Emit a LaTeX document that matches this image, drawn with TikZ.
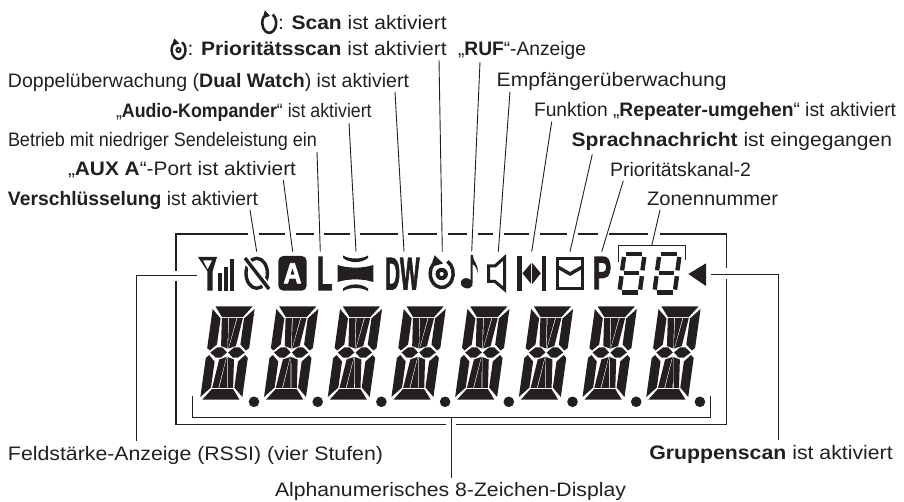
\documentclass[tikz,border=0pt]{standalone}
\usepackage{graphicx}
\usepackage{fontspec}
\setmainfont{Liberation Sans}
\newfontfamily\heavyfont{Liberation Sans}[BoldFeatures={FakeBold=2.5}]
\definecolor{ink}{HTML}{231F20}
\newcommand\fitw[2]{\resizebox{#1pt}{\height}{#2}}
\newcommand\fitb[3]{\resizebox{#1pt}{#2pt}{\heavyfont\bfseries #3}}
\newcommand\segdigit{%
 \fill[ink] (2.5,0)--(39.5,0)--(31.5,10.5)--(10.5,10.5)--cycle;
 \fill[ink] (2.5,93)--(39.5,93)--(31.5,82.5)--(10.5,82.5)--cycle;
 \fill[ink] (0,2.5)--(9.3,12)--(9.3,38)--(3,44)--(0,41.5)--cycle;
 \fill[ink] (42,2.5)--(32.7,12)--(32.7,38)--(39,44)--(42,41.5)--cycle;
 \fill[ink] (0,51.5)--(3,48.5)--(9.3,55)--(9.3,81)--(0,90.5)--cycle;
 \fill[ink] (42,51.5)--(39,48.5)--(32.7,55)--(32.7,81)--(42,90.5)--cycle;
 \fill[ink] (3.8,46)--(10,40.8)--(15,40.8)--(20.4,46)--(15,51.2)--(10,51.2)--cycle;
 \fill[ink] (38.2,46)--(32,40.8)--(27,40.8)--(21.6,46)--(27,51.2)--(32,51.2)--cycle;
 \fill[ink] (10.5,11.6)--(16.8,11.6)--(20.4,42)--(13.6,39.5)--cycle;
 \fill[ink] (17.6,11.6)--(25.2,11.6)--(21,43)--cycle;
 \fill[ink] (26,11.6)--(31.5,11.6)--(28.4,39.5)--(21.6,42)--cycle;
 \fill[ink] (10.5,81.4)--(16.8,81.4)--(20.4,50.5)--(13.6,53)--cycle;
 \fill[ink] (17.6,81.4)--(25.2,81.4)--(21,49.5)--cycle;
 \fill[ink] (26,81.4)--(31.5,81.4)--(28.4,53)--(21.6,50.5)--cycle;
}
\newcommand\ringic[5]{%
 \begin{scope}[shift={(#1,#2)},xscale=#3,yscale=#4]
  \draw[ink,line width=#5pt] (-60:1) arc[start angle=-60,end angle=222,radius=1];
  \fill[ink] (-.62,-1.3)--(.12,-.72)--(-.95,-.46)--cycle;
 \end{scope}}
\newcommand\sevenseg[1]{%
 \begin{scope}[shift={(#1,0)},ink,line width=4.4pt]
  \draw (6.8,253.9)--(22.8,253.9);
  \draw (2.7,292.6)--(18.7,292.6);
  \draw (4.7,273.3)--(20.3,273.3);
  \draw (5,257)--(3.1,270.4);
  \draw (2.5,276.2)--(0.7,289.6);
  \draw (25.3,257)--(23.4,270.4);
  \draw (22.9,276.2)--(21.1,289.6);
 \end{scope}}
\tikzset{
 lab/.style={inner sep=0pt,outer sep=0pt,anchor=base west,text=ink,font=\fontsize{19.5}{22}\selectfont},
 leader/.style={draw=ink,line width=0.9pt},
 frameline/.style={draw=ink,line width=1.5pt},
}
\begin{document}
\begin{tikzpicture}[x=1pt,y=-1pt]
\useasboundingbox (0,0) rectangle (904,502);
% frame
\draw[frameline] (248,234)--(176,234)--(176,271);
\draw[frameline] (176,281)--(176,424.5)--(446,424.5);
\draw[frameline] (456,424.5)--(726.5,424.5)--(726.5,279);
\draw[frameline] (726.5,268)--(726.5,234)--(660,234);
\foreach \a/\b in {258.7/285,295.7/313.5,324/349.5,359.7/397.5,408/437,447.7/467,477.7/492.7,504/529,540/566.7,578/598,609/648}
  \draw[frameline] (\a,234)--(\b,234);
% brackets
\draw[leader] (192,396)--(192,417)--(710.7,417)--(710.7,396);
\draw[leader] (618.3,262)--(618.3,245.7)--(685,245.7)--(685,260);
% text
\node[lab] (tscan) at (278,29.5) {\fitw{168.7}{: \textbf{Scan} ist aktiviert}};
\node[lab] (tprio) at (187.5,56) {\fitw{259.2}{: \textbf{Prioritätsscan} ist aktiviert}};
\node[lab] (truf) at (458,56) {\fitw{128}{„\textbf{RUF}“-Anzeige}};
\node[lab] (tdw) at (8,88) {\fitw{401}{Doppelüberwachung (\textbf{Dual Watch}) ist aktiviert}};
\node[lab] (taudio) at (116,118) {\fitw{255.7}{„\textbf{Audio-Kompander}“ ist aktiviert}};
\node[lab] (tlow) at (8,146.7) {\fitw{309}{Betrieb mit niedriger Sendeleistung ein}};
\node[lab] (taux) at (68,176) {\fitw{228}{„\textbf{AUX A}“-Port ist aktiviert}};
\node[lab] (tver) at (8,205.7) {\fitw{250}{\textbf{Verschlüsselung} ist aktiviert}};
\node[lab] (temp) at (496.7,87) {\fitw{230}{Empfängerüberwachung}};
\node[lab] (trep) at (534,117) {\fitw{362}{Funktion „\textbf{Repeater-umgehen}“ ist aktiviert}};
\node[lab] (tspr) at (571.7,147) {\fitw{320.3}{\textbf{Sprachnachricht} ist eingegangen}};
\node[lab] (tp2) at (610,176.7) {\fitw{141}{Prioritätskanal-2}};
\node[lab] (tzon) at (647,205.7) {\fitw{131}{Zonennummer}};
\node[lab] (tgrp) at (649.3,459) {\fitw{243.4}{\textbf{Gruppenscan} ist aktiviert}};
\node[lab] (trssi) at (8,460) {\fitw{375}{Feldstärke-Anzeige (RSSI) (vier Stufen)}};
\node[lab] (talpha) at (275,496.7) {\fitw{351}{Alphanumerisches 8-Zeichen-Display}};
% leader end points
\foreach \n/\xa/\ya/\xb/\yb in {
 ver/250/210/256.7/251.7, aux/283.3/180/292.7/251.7, low/317/152/320.3/251.7,
 aud/349/123/356/251.7, dw/395/92/404/251.7, pri/439/60/442.3/251.7,
 ruf/480/62/471.7/251.7, emp/510/91.7/498.3/251.7, rep/551.7/121.7/531.7/251.7,
 spr/592.3/154.3/570/251.7, pt/623.3/180.7/601.7/251.7, zon/660/210/651.7/245.7}{
 \coordinate (s\n) at (\xa,\ya);
 \coordinate (e\n) at (\xb,\yb);
 \draw[leader] (s\n)--(e\n);
}
\coordinate (rssiA) at (197,275); \coordinate (rssiB) at (136,275); \coordinate (rssiC) at (136,441);
\draw[leader] (rssiA)--(rssiB)--(rssiC);
\coordinate (grpA) at (711,274); \coordinate (grpB) at (778,274); \coordinate (grpC) at (778,440);
\draw[leader] (grpA)--(grpB)--(grpC);
\coordinate (alA) at (451,417); \coordinate (alB) at (451,478);
\draw[leader] (alA)--(alB);
% antenna + bars
\fill[ink,even odd rule] (198,257)--(217,257)--(212.7,271)--(212.7,290.7)--(207.3,290.7)--(207.3,271)--cycle
   (203,260.5)--(212,260.5)--(207.5,269.5)--cycle;
\fill[ink] (218.3,273) rectangle (222.3,290.7);
\fill[ink] (224,267) rectangle (227.5,290.7);
\fill[ink] (230,259) rectangle (233.5,290.7);
% encryption
\draw[ink,line width=3.4pt] (256.7,273.3) ellipse[x radius=10.7,y radius=15];
\draw[white,line width=7pt] (243,256)--(271,291);
\draw[ink,line width=3.4pt] (245,258)--(269,289);
% A box
\fill[ink,rounded corners=5pt] (278.3,256) rectangle (306.7,290.7);
\node[inner sep=0pt,text=white] (iconA) at (292.5,273.3) {\fitb{18}{20}{A}};
% L
\node[inner sep=0pt,anchor=base west,text=ink] (iconL) at (316.7,290) {\fitb{15.6}{33}{L}};
% compander
\fill[ink] (337.7,265) .. controls (348,268.5) and (363,268.5) .. (373.3,265) -- (373.3,282) .. controls (363,278.5) and (348,278.5) .. (337.7,282) -- cycle;
\fill[ink] (343,255.5) .. controls (350,259.5) and (361,259.5) .. (368,255.5) -- (368,258) .. controls (361,263.5) and (350,263.5) .. (343,258) -- cycle;
\fill[ink] (343,291) .. controls (350,287) and (361,287) .. (368,291) -- (368,288.5) .. controls (361,283) and (350,283) .. (343,288.5) -- cycle;
% DW
\node[inner sep=0pt,anchor=base west,text=ink] (iconDW) at (385,289.3) {\fitb{34.3}{31.3}{DW}};
% priority scan (big)
\ringic{441.7}{273.5}{11.5}{14}{3.5}
\fill[ink] (441.7,274) circle[radius=6.2];
\fill[white] (441.7,274) circle[radius=2];
% note
\fill[ink,rotate around={-20:(466.7,283.3)}] (466.7,283.3) ellipse[x radius=6.2,y radius=5];
\fill[ink] (470.5,255) -- (472.7,255) .. controls (473,262) and (479,264) .. (477.5,273) .. controls (476.5,267) and (474.5,265) .. (472.7,264) -- (472.7,283) -- (470.5,283) -- cycle;
% speaker
\draw[ink,line width=3pt,line join=miter] (488.5,266)--(495,266)--(504.5,257.5)--(504.5,289.5)--(495,281.5)--(488.5,281.5)--cycle;
% bypass
\fill[ink] (517.3,256) rectangle (521.7,290.7);
\fill[ink] (541.7,256) rectangle (546,290.7);
\fill[ink] (522.5,273.3)--(531.2,263)--(531.2,284)--cycle;
\fill[ink] (540.8,273.3)--(532.2,263)--(532.2,284)--cycle;
% mail
\draw[ink,line width=3pt] (557.5,258.2) rectangle (582.5,288.8);
\draw[ink,line width=3.4pt] (557,266.5)--(570,274)--(583,266.5);
% P
\node[inner sep=0pt,anchor=base west,text=ink] (iconP) at (592.7,289) {\fitb{18.3}{32}{P}};
% zone digits
\sevenseg{619}
\sevenseg{654}
% group scan triangle
\fill[ink] (688.3,274)--(706,263.3)--(706,286)--cycle;
% main digits
\foreach \i in {0,...,7}{
 \begin{scope}[shift={(213+63.7*\i,306.5)},xslant=0.14]
  \segdigit
 \end{scope}
 \fill[ink] (254+63.7*\i,401.8) circle[radius=5.3];
}
% small ring icons in text
\ringic{269.2}{23}{7}{9.8}{2.6}
\ringic{178.5}{50}{7}{9}{2.4}
\fill[ink] (178.5,50) circle[radius=3.2];
\fill[white] (178.5,50) circle[radius=1];
\end{tikzpicture}
\end{document}
